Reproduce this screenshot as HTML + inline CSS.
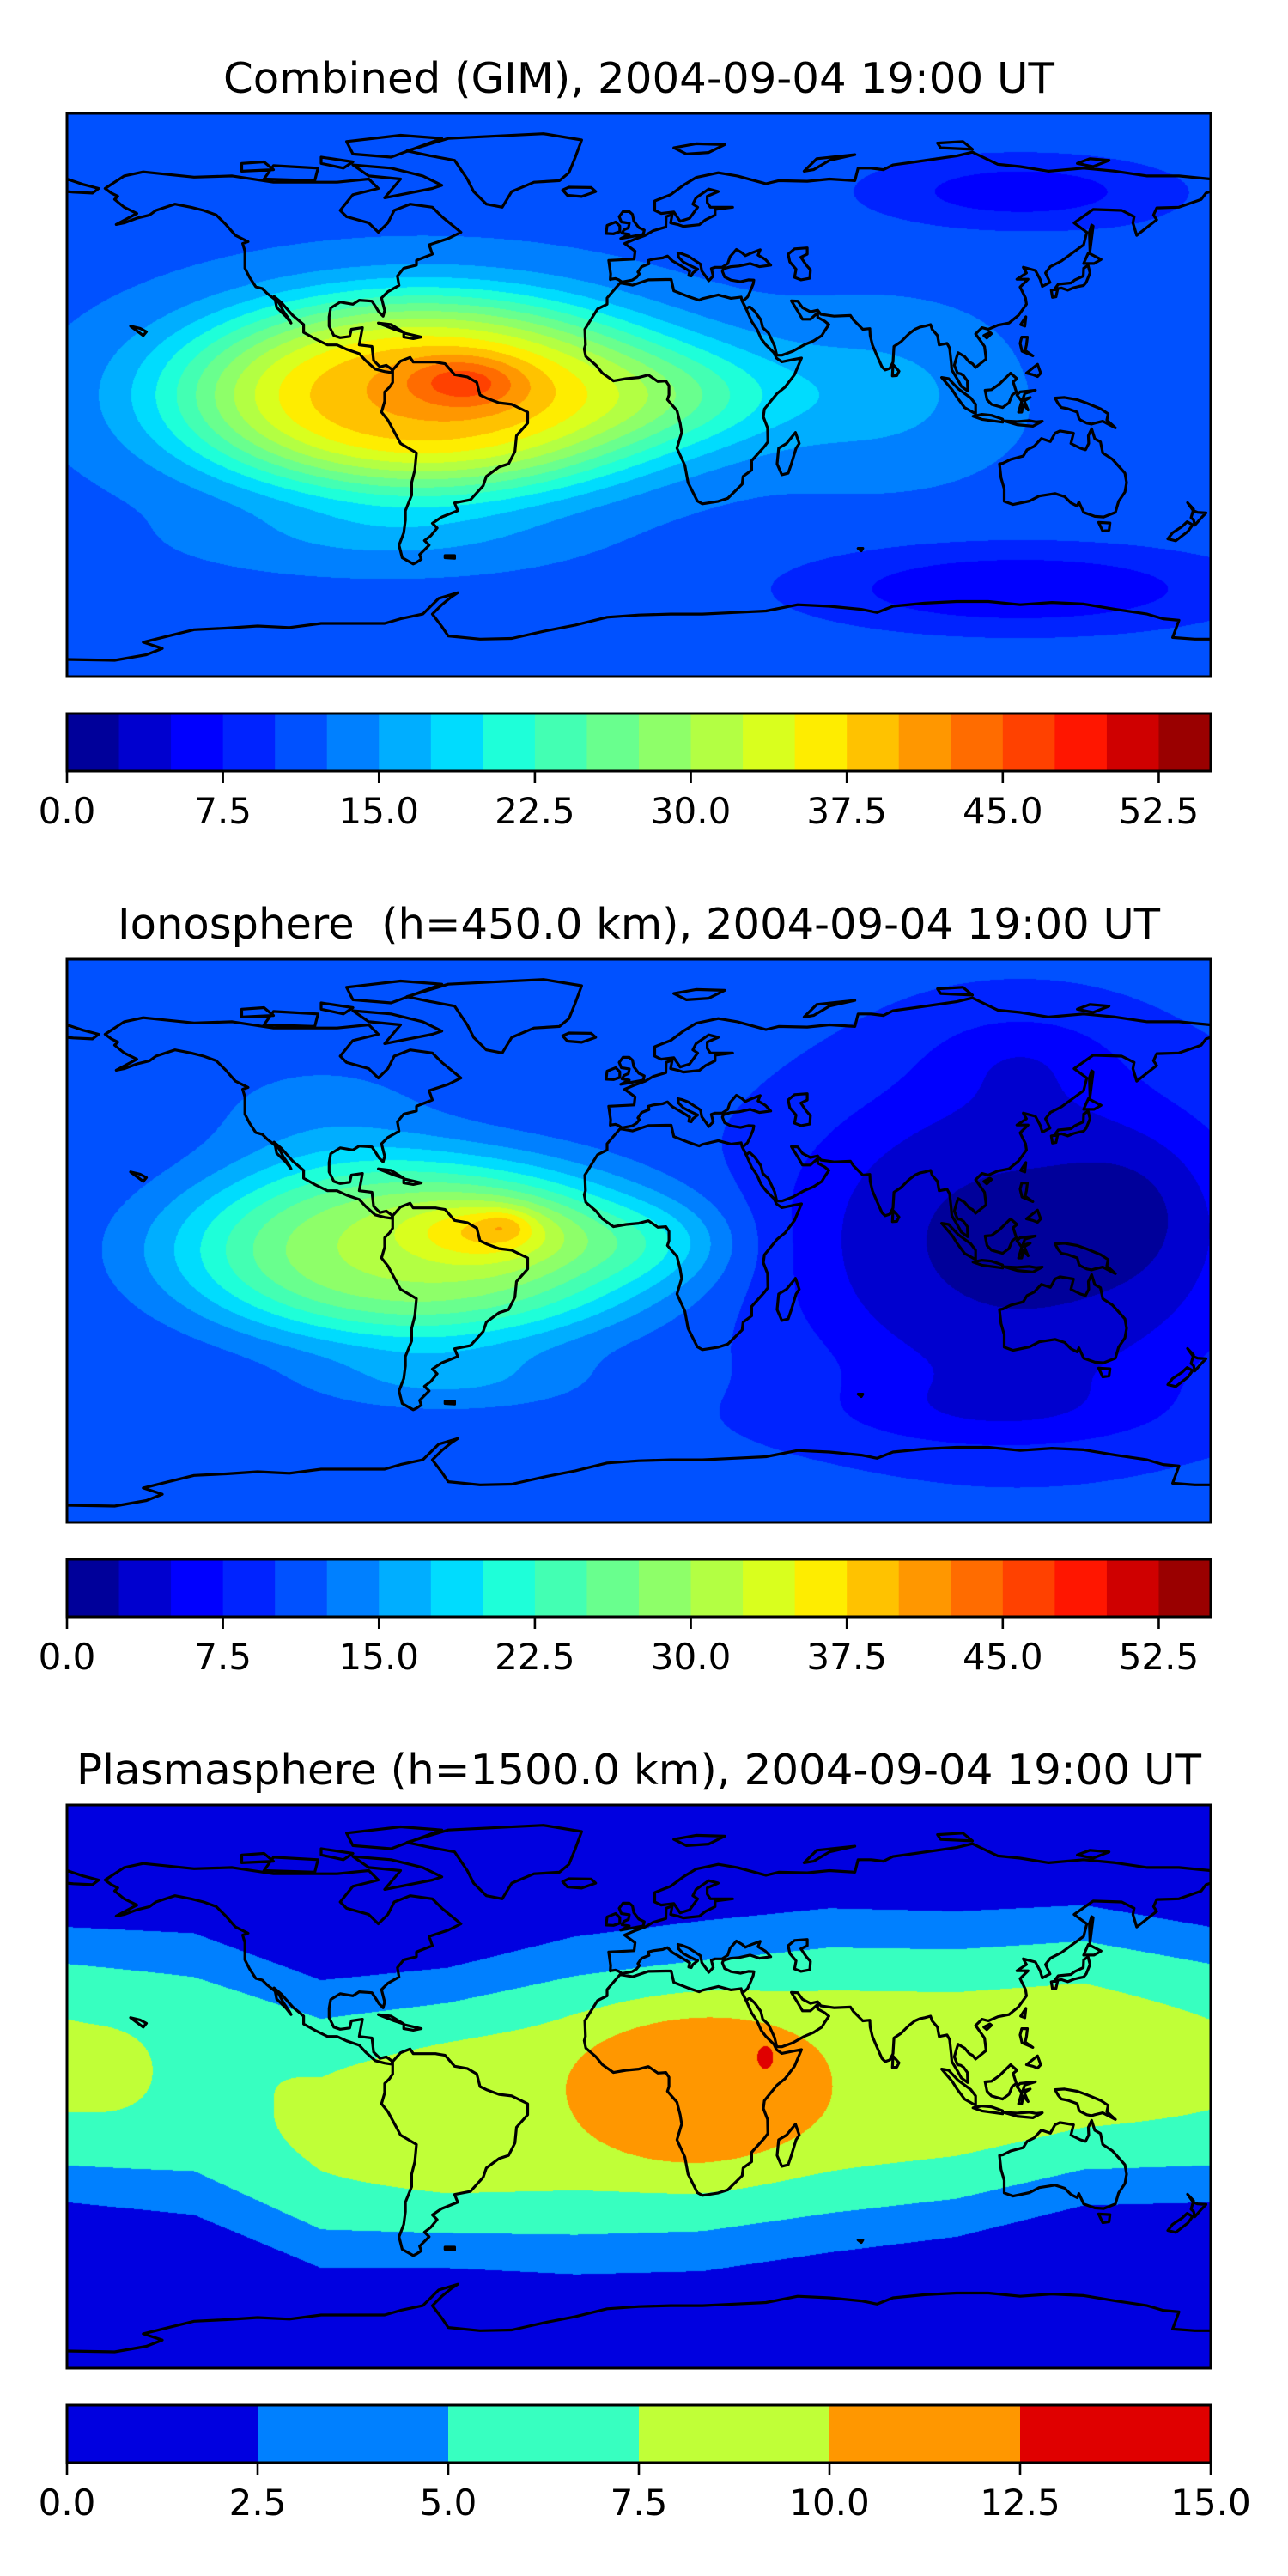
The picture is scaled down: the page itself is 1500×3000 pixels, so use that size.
<!DOCTYPE html>
<html><head><meta charset="utf-8">
<style>
html,body{margin:0;padding:0;background:#fff;}
#root{position:relative;width:1500px;height:3000px;overflow:hidden;background:#fff;}
canvas{position:absolute;}
svg{position:absolute;left:0;top:0;}
text{font-family:"DejaVu Sans","Liberation Sans",sans-serif;fill:#000;}
</style></head>
<body>
<div id="root">
<canvas id="c1" width="1332" height="656" style="left:78px;top:132px"></canvas>
<canvas id="c2" width="1332" height="656" style="left:78px;top:1117px"></canvas>
<canvas id="c3" width="1332" height="656" style="left:78px;top:2102px"></canvas>
<svg id="ov" width="1500" height="3000">
<text x="744" y="108" font-size="49" text-anchor="middle" textLength="968" lengthAdjust="spacingAndGlyphs">Combined (GIM), 2004-09-04 19:00 UT</text>
<text x="744" y="1093" font-size="49" text-anchor="middle" textLength="1214" lengthAdjust="spacingAndGlyphs" xml:space="preserve">Ionosphere  (h=450.0 km), 2004-09-04 19:00 UT</text>
<text x="744" y="2078" font-size="49" text-anchor="middle" textLength="1310" lengthAdjust="spacingAndGlyphs">Plasmasphere (h=1500.0 km), 2004-09-04 19:00 UT</text>
</svg>
</div>
<script>
// ---- data ----
const mapTops = [132, 1117, 2102];
const cbarTops = [831, 1816, 2801];
const cbarMax = [55, 55, 15];
const cbarStep = 2.5;
const ticks1 = [0, 7.5, 15, 22.5, 30, 37.5, 45, 52.5];
const tickLabels1 = ["0.0","7.5","15.0","22.5","30.0","37.5","45.0","52.5"];
const ticks3 = [0, 2.5, 5, 7.5, 10, 12.5, 15];
const tickLabels3 = ["0.0","2.5","5.0","7.5","10.0","12.5","15.0"];
// field model bumps: [amplitude, lon, lat, sigmaLon, sigmaLat, exponent]
const base1 = 12;
const bumps1 = [[28,-68,0,78,32,3],[7,-55,4,18,8,2],[6,20,0,35,18,2],[4,75,0,35,22,2],[3,-80,-45,50,10,2],[-7,120,-62,70,14,2],[-6,120,65,50,12,2],[-2,160,20,25,25,2]];
const base2 = 10.5;
const bumps2 = [[20,-70,-3,75,30,3],[8,-48,3,25,10,2],[3.5,-42,5,8,5,2],[4,5,0,25,13,2],[3,-100,40,40,20,2],[4,-60,-45,45,10,2],[-8.5,120,0,75,55,3],[-3,110,-55,60,12,2],[-3,120,60,30,15,2],[-2,155,10,20,20,2]];
// plasmasphere equatorial band, read at control longitudes
const band3Lon = [-180,-140,-100,-60,-20,20,60,100,140,180];
const band3Center = [7,4,-12,-10,-6,-3,2,4,10,7];
const band3Half = [44,45,46,48,54,56,55,52,48,44];
const band3Amp = [7.8,7.0,7.8,8.8,8.8,9.0,9.0,8.8,8.6,7.8];
const bumps3 = [[1.2,-167,5,11,10,2],[3,18,0,42,27.5,4],[2,40,10,3,4.5,2]];

const MX = 78, MW = 1332, MH = 656;

function jet(t){
  function seg(pts){for(let i=0;i<pts.length-1;i++){const a=pts[i],b=pts[i+1];if(t<=b[0]){return a[1]+(b[1]-a[1])*(t-a[0])/(b[0]-a[0]);}}return pts[pts.length-1][1];}
  const r=seg([[0,0],[0.35,0],[0.66,1],[0.89,1],[1,0.5]]);
  const g=seg([[0,0],[0.125,0],[0.375,1],[0.64,1],[0.91,0],[1,0]]);
  const b=seg([[0,0.5],[0.11,1],[0.34,1],[0.65,0],[1,0]]);
  return [Math.round(r*255),Math.round(g*255),Math.round(b*255)];
}
function bandColors(n){const a=[];for(let i=0;i<n;i++)a.push(jet((i+0.5)/n));return a;}
function sumBumps(b,lon,lat){let v=0;for(const q of b){const dx=(lon-q[1])/q[3],dy=(lat-q[2])/q[4];const r2=dx*dx+dy*dy;v+=q[0]*Math.exp(-Math.pow(r2,q[5]/2));}return v;}
function interp(xs,ys,x){for(let i=0;i<xs.length-1;i++){if(x<=xs[i+1]){const t=(x-xs[i])/(xs[i+1]-xs[i]);return ys[i]+(ys[i+1]-ys[i])*t;}}return ys[ys.length-1];}
function f1(lon,lat){return base1+sumBumps(bumps1,lon,lat);}
function f2(lon,lat){return base2+sumBumps(bumps2,lon,lat);}
function f3(lon,lat){
  const c=interp(band3Lon,band3Center,lon),h=interp(band3Lon,band3Half,lon),A=interp(band3Lon,band3Amp,lon);
  const s=h/Math.cbrt(Math.log(A/2.5));
  const d=Math.abs(lat-c)/s;
  return A*Math.exp(-d*d*d)+sumBumps(bumps3,lon,lat);
}

function drawField(id,fn,maxv){
  const cv=document.getElementById(id),ctx=cv.getContext('2d');
  const n=Math.round(maxv/cbarStep),cols=bandColors(n);
  const img=ctx.createImageData(MW,MH),d=img.data;
  for(let j=0;j<MH;j++){const lat=90-(j+0.5)/MH*180;
    for(let i=0;i<MW;i++){const lon=-180+(i+0.5)/MW*360;
      let k=Math.floor(fn(lon,lat)/cbarStep);if(k<0)k=0;if(k>n-1)k=n-1;
      const c=cols[k],p=(j*MW+i)*4;d[p]=c[0];d[p+1]=c[1];d[p+2]=c[2];d[p+3]=255;}}
  ctx.putImageData(img,0,0);
}
drawField('c1',f1,cbarMax[0]);
drawField('c2',f2,cbarMax[1]);
drawField('c3',f3,cbarMax[2]);

// ---- coastlines (lon,lat) ----
const coasts = [
[-168,66,-162,70,-156,71.3,-140,69.6,-128,70,-115,68,-95,68,-85,69,-82,66,-90,64,-94,59,-92,57,-85,55,-82,52,-79,55,-77,59,-72,61,-65,60,-62,57,-56,52,-60,50,-66,48,-65,45,-70,43,-70,41.5,-74,40.5,-76,38,-75.5,35,-79,33,-81,31,-80,27,-80.5,25.2,-81.8,26.5,-82.7,28,-84,30,-88,30.3,-90,29,-94,29.7,-97,27.8,-97.5,25,-97.5,22,-96,19,-94,18.3,-91,18.7,-90.5,21,-87,21.5,-88,16,-84,15.5,-83.5,11,-81.5,9,-79.5,9.5,-77.5,8,-78,7.2,-80,7.5,-83,8.3,-86,11,-88,13.2,-92,14.6,-95,16,-98,16,-102,18,-105.5,20,-105.5,22.5,-109,25.5,-112.5,29.5,-114.8,31.5,-113,29,-112,27,-110,24,-109.5,23,-111,25,-114,28,-114.5,30.5,-117,32.5,-118.5,34,-120.6,34.6,-122.5,37.5,-124,40.5,-124,46,-124.7,48.4,-123,49,-127,51,-130,54.5,-133,57.5,-137,59,-141,60,-146,61,-152,59,-154,57.5,-158,56.5,-162,55,-164.5,54.5,-158,58,-162,60,-165,62.5,-164,63.5,-166,64.5,-168,66],
[-80,63,-65,66,-62,67,-68,70,-78,72.5,-90,73.5,-85,70,-75,69,-80,63],
[-90,77,-78,76,-62,82,-75,83,-92,81,-90,77],
[-118,69,-102,68.5,-101,72.5,-115,73.3,-118,69],
[-125,71.5,-115,72,-118,74.5,-125,74,-125,71.5],
[-100,74,-93,72.5,-90,74.5,-100,76,-100,74],
[-73,78,-60,82,-30,83.5,-18,81.5,-20,76,-22,71,-25,68.5,-33,68,-40,65,-43,60,-48,61,-52,65,-54,69,-58,75,-66,76.5,-73,78],
[-24,65.5,-22,66.4,-15,66.3,-13.6,65,-18,63.4,-22.5,63.8,-24,65.5],
[-77.5,8,-75,10.8,-72,12,-71,10.5,-68,10.5,-64,10.5,-61,10,-58,6.5,-54,5.8,-51,4,-50,0,-48,-1,-44,-2.5,-40,-3,-35,-5.5,-35,-9,-38.5,-13,-39,-18,-41,-22,-44,-23,-48,-26,-49,-29,-53,-33.5,-58,-34.5,-57,-37,-62,-39,-65,-41,-63.5,-42.5,-65.5,-45,-67.5,-46.5,-66,-48,-69,-51,-68.5,-52.5,-70,-53.5,-71,-54,-74.5,-52,-75.5,-48,-74,-44,-73.5,-40,-73.5,-37,-71.5,-32,-71.5,-28,-70.5,-24,-70,-18.5,-75,-15.5,-79,-8,-81,-5.5,-80,-2,-80,1,-78.5,2.5,-77.5,4,-77.5,8],
[-82,23,-77,21,-74,20,-78,22.5,-82,23],
[-74,19.8,-68.5,18.5,-71,18,-74,18.5,-74,19.8],
[-5.9,35.8,-10,31,-10,29,-13,27.5,-17,21,-16.8,16,-17.2,14.7,-16.7,12.3,-13.5,9.5,-11.5,7,-8,4.5,-4,5.2,0,5.6,3,6.4,6,4.3,8.5,4.5,9.5,3,9.5,0,9,-1.5,12,-5,13,-9,13.5,-12,12,-17,14.5,-22.5,15.5,-28,18.4,-33.9,20,-34.8,25,-34,28,-33,32.5,-28.5,32.8,-26,35.5,-24,35.5,-21,39.5,-16.5,40.6,-15,40.5,-10.5,39.2,-7,39.5,-4.5,41.5,-2,43.5,0.5,46,2.5,49,6.5,51.2,11.8,48.5,11.3,45,10.6,43.3,11.8,42.5,13.5,40,16,38.5,18,37.2,21,35.5,23.5,34,27,32.5,30,32.2,31.3,29,30.9,25,32,20,30.8,19,30.3,15.5,31.5,11,33.3,10.2,36.9,8.5,36.9,3,36.8,-2,35.1,-5.9,35.8],
[49.3,-12,50.5,-15.5,49.5,-17,48,-22,47,-25,45,-25.5,43.5,-22,44,-17,46.5,-15.5,49.3,-12],
[-9,36.9,-8.9,38.7,-9.5,43,-1.5,43.4,-1.2,46,-4.5,48.4,-1.5,49.7,2,51,4.5,52.5,8.5,53.7,8.6,57,10.5,57.7,10,55,12.5,54.4,14,53.9,19,54.4,21,56,24,57.5,24,59.3,29.5,60,22.5,60,21.5,61.5,21.5,63.5,25,65,22,65.8,18,63,17,61,18.5,60,16,56.5,13,55.5,11,58.5,7,58,5,59,5,62,10,64,14,67,18,69.5,25,71,31,70,40,67.5,44,68.5,53,68.3,60,69,68,68.5,69,72.5,73,72.5,77,72,80,73.5,87,74.5,100,76.4,105,77.6,113,73.7,120,73,129,71.5,140,72.5,150,71.5,160,70,170,70,180,69,180,65,178.5,64.5,177,62.5,170,60,163,59.8,162,57.5,163,56,156.7,51,155.5,55,155.9,57,152,59,143,59.3,137,55,141,52,140,48,133,42.8,129.5,41,128,39,129.4,36,127,34.7,126.3,37,124.8,39.8,121,40.8,122,39,119,37,122.5,37,120,34.5,121.7,31,122,29,119.5,25.5,116.5,23,113,22.3,110,21,108,21.5,106,19.5,108.8,15.5,109.3,11.5,106,8.8,105,10,104,10.5,102.5,12.3,100.5,13.5,100,12,99.3,9.5,100.3,7,101.3,6.8,102.2,6.2,103.4,4.5,103.5,1.3,101.5,2.8,100.3,5,98.5,8,98.3,10.5,97.8,15,97,16.5,94.5,16,94,19,92.3,21,91.8,22.5,90,22,88.5,21.7,86.9,21,85,19.5,82.5,17,80.3,15.5,80,10.5,79,8.5,77.5,8,76.5,9,74.8,12.9,73.5,16,72.8,19,72.7,21.2,70.5,21,69,22.5,67.5,24,66.6,25.4,61.5,25.2,57.3,25.8,56.3,27.1,54,26.6,51.5,27.9,50,30,48,30.1,50,26.8,51.5,24.2,54,24.2,56.3,26.3,56.3,24.8,58.5,23.6,59.8,22.5,58.5,20.5,57.6,19,55,17.3,52,16,48.5,14,45,12.7,43.4,12.7,42.7,15.7,40.8,19.8,39,21.5,38.4,24,36.5,26.7,35,28.1,34.6,28.1,33.8,27.5,32.6,29.9,34.2,31.3,35,33,36,35.5,36.2,36.7,34.5,36.8,32,36.2,29,36.7,27,37.7,26.3,39.5,26.6,40.3,29,41,31.5,41.2,35,42,38,41,41.5,41.5,39.8,43.3,37.5,44.7,38.2,46.4,35,45.2,33.5,44.5,32.5,45.4,30.7,46.5,29.6,45.2,28.7,44.2,28,42,26.2,40.8,24,40.8,22.8,40.4,23.4,38,22,36.5,21.1,37.8,19.8,39.6,19.4,41.8,15.5,44.4,13.6,45.1,12.3,45.4,12.5,44,14,42.5,16,41.4,18.5,40.2,17,39,16.5,38,15.7,38.2,16,39.5,15,40.2,12.5,41.7,10.5,42.9,9,44.4,7.5,43.8,4.5,43.4,3,43,3.2,41.9,0.9,41,-0.3,39.3,0.2,38.7,-0.7,37.6,-2.1,36.7,-5.3,36.1,-6.3,36.8,-7.4,37.2,-8.9,37,-9,36.9],
[-180,69,-175,67.3,-170,66,-172,64.5,-178,64.8,-180,65],
[47,45,49,46.7,53,47,53,45,51,44,52.7,41.5,54,40,53.8,37.3,51,36.8,49,37.6,49.5,40.2,47.5,42.5,47,45],
[130.9,33.9,132,35.4,136,35.8,137.3,36.8,139.9,38,140,40.5,141.4,41.4,142,39,140.8,36,140,35,138.5,34.7,136.9,34.3,135,33.5,133,34.2,130.9,33.9],
[140,42,141.5,45.4,145.5,43.3,143.3,42,140,42],
[129.8,33.5,131.8,33.8,131.3,31.4,130.2,31.2,129.8,33.5],
[142,46,143,54,142.5,54.3,141.8,52,142,46],
[-5.7,50,1.4,51.3,1.7,52.7,0,53.5,-1.6,55.6,-2,57.7,-3,58.6,-5,58.6,-6.2,57,-5.5,55.3,-3,54.9,-3.3,53.4,-4.7,52.8,-5.3,51.7,-3,51.3,-5.7,50],
[-6,52.2,-6,54,-7.3,55.3,-10,54.2,-10.3,51.6,-8,51.5,-6,52.2],
[52,71.5,56,75.5,68,76.8,60,75,55,72,52,71.5],
[11,79,18,80.3,27,80,22,77.5,15,77,11,79],
[95,79,105,78.5,102,81,94,80.5,95,79],
[138,74,142,75.5,148,75,143,73,138,74],
[79.8,6.1,80,9.7,81.9,7.6,81.2,6.2,79.8,6.1],
[120.2,22.5,121.8,25,121.5,22,120.2,22.5],
[108.6,19,110.5,20,111,19.6,109.5,18.2,108.6,19],
[95.3,5.6,97.5,5.2,100.5,2,104.5,-1,106,-3,106,-6,102.5,-4,100.3,-1,98.6,1.7,95.3,5.6],
[105.2,-6.8,108,-6.2,111,-6.5,114.5,-7.7,114.5,-8.7,108,-7.8,105.2,-6.8],
[109,1.5,109.6,-1.5,111,-3,114.5,-4,116.5,-2.5,117.5,0,118.8,1,117.8,4.2,119,5.2,117,7,115.5,5.5,113.5,3.5,111,1.7,109,1.5],
[119.5,-5.5,120.5,-2,119,0,120,1,124.8,1.5,121.5,0.5,120.8,-1.4,123.2,-0.8,121.3,-1.9,122.5,-4.8,121,-3,120.5,-5.5,119.5,-5.5],
[131,-1,134,-0.8,138,-1.5,141,-2.6,145.5,-4.5,147.7,-6,147.3,-8,150,-10.5,146,-8.4,143.5,-9,142.5,-9.3,141,-9,139,-8,138.5,-7.5,138,-5.5,135,-4.4,133,-4,132,-2.8,131,-1],
[120.5,18.5,122.3,18.5,122,16,121.6,14.2,124,12.5,120.6,14,120,16.5,120.5,18.5],
[122,7,125.5,9.8,126.5,7,125.5,5.9,124,6.5,122,7],
[115,-8.3,119,-8.5,123,-8.2,125,-8.6,127,-8.4,124,-10,119,-9.5,115,-8.3],
[113.5,-22,114,-26.5,115,-30,115,-34,117.8,-35,123,-33.9,126,-32.3,131,-31.5,134,-32.5,136,-34.5,138,-35.5,138.5,-34.2,140,-37.5,143.5,-38.8,146.3,-39,150,-37.5,151,-34,153,-31,153.5,-28,153,-25,150.8,-22.5,149,-20.5,146,-18.5,145.3,-15,143.5,-14,142.5,-10.8,141.5,-13,141.6,-15.5,140.6,-17.5,139,-17,136,-15.5,136.8,-12.2,132.6,-11.5,131,-12.2,129.5,-14.9,126.7,-13.9,124.4,-16.4,122.2,-17.5,121,-19.5,117,-20.6,114.6,-21.8,113.5,-22],
[144.7,-40.7,148.3,-40.9,148,-43.2,146,-43.5,144.7,-40.7],
[172.7,-34.4,174.5,-37,175.9,-37.5,178.5,-37.7,177,-39.3,175,-41.6,174.6,-39.9,173.8,-39.2,174.6,-36.5,172.7,-34.4],
[172.6,-40.5,174.3,-41.5,172.8,-43.6,171,-45,169,-46.6,166.5,-46,168,-44,171,-42,172.6,-40.5],
[-156,19,-155,20.2,-157,21.3,-160,22,-156,19],
[-61,-51.3,-58,-51.3,-58,-52.2,-61,-52,-61,-51.3],
[69,-49,70.5,-49,70,-49.8,69,-49]
];
const antarctic = [-180,-84.5,-165,-84.8,-155,-83,-150,-81,-156,-79,-148,-77,-140,-75,-130,-74.5,-120,-73.8,-110,-74.3,-100,-73,-90,-73,-80,-73,-75,-71.5,-68,-70,-63,-65,-57,-63.2,-59,-64.5,-62,-67,-65,-70,-62,-74,-60,-77,-50,-78,-40,-77.8,-30,-75.5,-20,-73.5,-10,-71,0,-70.3,10,-70,20,-70,30,-69.5,40,-69,50,-67,60,-67.5,70,-68.5,75,-69.5,80,-67.5,90,-66.5,100,-66,110,-66,120,-67,130,-66.3,140,-66.8,150,-68.5,160,-70,165,-71.5,170,-72,168,-77.5,175,-78,180,-78];

const NS='http://www.w3.org/2000/svg';
const ov=document.getElementById('ov');
function mk(tag,attrs){const e=document.createElementNS(NS,tag);for(const k in attrs)e.setAttribute(k,attrs[k]);return e;}
function pathFor(arr,close){let s='';for(let i=0;i<arr.length;i+=2){const x=(MX+(arr[i]+180)/360*MW).toFixed(1),y=((90-arr[i+1])/180*MH).toFixed(1);s+=(i?'L':'M')+x+' '+y;}return s+(close?'Z':'');}
let coastD='';for(const c of coasts)coastD+=pathFor(c,true);coastD+=pathFor(antarctic,false);

const defs=mk('defs',{});ov.appendChild(defs);
const cp=mk('clipPath',{id:'mapclip'});cp.appendChild(mk('rect',{x:MX,y:0,width:MW,height:MH}));defs.appendChild(cp);

const mapNames=['combined','ionosphere','plasmasphere'];
for(let m=0;m<3;m++){
  const g=mk('g',{transform:'translate(0,'+mapTops[m]+')','clip-path':'url(#mapclip)'});
  
  
  const p=mk('path',{d:coastD,fill:'none',stroke:'#000','stroke-width':3.2,'stroke-linejoin':'round'});
  
  
  g.appendChild(p);ov.appendChild(g);
  const fr=mk('rect',{x:MX,y:mapTops[m],width:MW,height:MH,fill:'none',stroke:'#000','stroke-width':3});
  
  
  ov.appendChild(fr);

  const maxv=cbarMax[m],n=Math.round(maxv/cbarStep),cols=bandColors(n),cy=cbarTops[m],ch=67;
  const cb=mk('g',{});
  
  
  for(let i=0;i<n;i++){
    const x0=MX+i*cbarStep/maxv*MW,x1=MX+(i+1)*cbarStep/maxv*MW;
    const r=mk('rect',{x:x0.toFixed(2),y:cy,width:(x1-x0+0.6).toFixed(2),height:ch,fill:'rgb('+cols[i].join(',')+')'});
    
    
    cb.appendChild(r);
  }
  cb.appendChild(mk('rect',{x:MX,y:cy,width:MW,height:ch,fill:'none',stroke:'#000','stroke-width':3}));
  const tv=m<2?ticks1:ticks3,tl=m<2?tickLabels1:tickLabels3;
  for(let i=0;i<tv.length;i++){
    const x=MX+tv[i]/maxv*MW;
    const t=mk('line',{x1:x,y1:cy+ch,x2:x,y2:cy+ch+14,stroke:'#000','stroke-width':2.6});
    
    
    cb.appendChild(t);
    const lb=mk('text',{x:x,y:cy+ch+61,'font-size':42,'text-anchor':'middle'});
    
    
    lb.textContent=tl[i];cb.appendChild(lb);
  }
  ov.appendChild(cb);
}
</script>
</body></html>
